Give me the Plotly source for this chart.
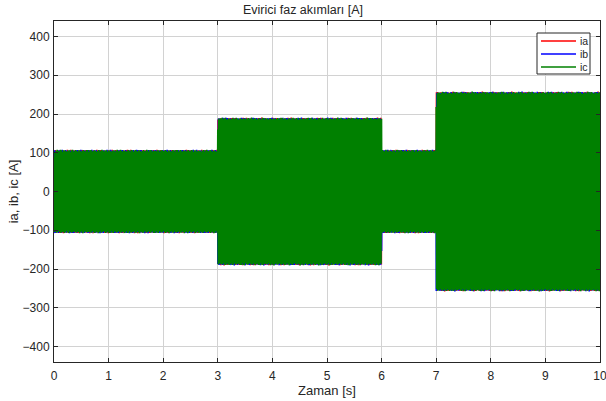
import numpy as np
import plotly.graph_objects as go

# Segment data
seg_start = [0.0, 3.0, 6.0, 7.0]
seg_end = [3.0, 6.0, 7.0, 10.0]
seg_amp = [102.0, 185.0, 102.0, 252.0]   # peak current per segment [A]
f_grid = 50.0                              # fundamental frequency [Hz]
ripple_amp = 6.0                           # switching ripple [A]
ripple_f = 1237.0
phase_names = ["ia", "ib", "ic"]
phase_shift_deg = [0.0, -120.0, 120.0]
phase_colors = ["#ff0000", "#0000ff", "#008000"]
x_ticks = list(range(0, 11))
y_ticks = list(range(-400, 401, 100))

fs = 4000.0
t = np.arange(0, 10.0 + 1 / fs, 1 / fs)
amp = np.zeros_like(t)
for s, e, a in zip(seg_start, seg_end, seg_amp):
    amp[(t >= s) & (t <= e)] = a

fig = go.Figure()
for name, ph, col in zip(phase_names, phase_shift_deg, phase_colors):
    p = np.deg2rad(ph)
    y = (amp * np.sin(2 * np.pi * f_grid * t + p)
         + ripple_amp * np.sin(2 * np.pi * ripple_f * t + 3 * p) * np.sin(2 * np.pi * 7.3 * t + p))
    fig.add_trace(go.Scatter(x=t, y=y, mode="lines", name=name, showlegend=False,
                             line=dict(color=col, width=1.6)))

FONT = "Liberation Sans, Arial"
axis_common = dict(
    showline=True, linecolor="#262626", linewidth=1, mirror="ticks",
    ticks="inside", ticklen=4, tickcolor="#262626",
    showgrid=True, gridcolor="#d2d2d2", gridwidth=1,
    zeroline=False, automargin=False, ticklabeloverflow="allow",
    tickfont=dict(family=FONT, size=12, color="#262626"),
)

# custom compact legend (MATLAB style)
L, R, T, B = 54, 600, 21, 362
W, H = 606, 401
def px(x):
    return (x - L) / (R - L)
def py(y):
    return (B - y) / (B - T)

shapes = [dict(type="rect", xref="paper", yref="paper",
               x0=px(537), x1=px(590), y0=py(74), y1=py(33),
               line=dict(color="#262626", width=1), fillcolor="white", layer="above")]
annotations = []
for i, (name, col) in enumerate(zip(phase_names, phase_colors)):
    yy = 41 + 13 * i
    shapes.append(dict(type="line", xref="paper", yref="paper",
                       x0=px(541), x1=px(576), y0=py(yy), y1=py(yy),
                       line=dict(color=col, width=1.5), layer="above"))
    annotations.append(dict(text=name, xref="paper", yref="paper",
                            x=px(578), y=py(yy), xanchor="left", yanchor="middle",
                            showarrow=False, font=dict(family=FONT, size=10.5, color="#262626")))

fig.update_layout(
    width=W, height=H,
    margin=dict(l=L, r=W - R, t=T, b=H - B),
    paper_bgcolor="white", plot_bgcolor="white",
    title=dict(text="Evirici faz akımları [A]", x=0.5, xref="container",
               y=1 - 10 / H, yref="container", xanchor="center", yanchor="middle",
               automargin=False,
               font=dict(family=FONT, size=12.5, color="#262626")),
    xaxis=dict(range=[0, 10], tickvals=x_ticks, ticklabelstandoff=3,
               title=dict(text="Zaman [s]", standoff=2,
                          font=dict(family=FONT, size=13, color="#262626")),
               **axis_common),
    yaxis=dict(range=[-440, 440], tickvals=y_ticks, ticklabelstandoff=1,
               title=dict(text="ia, ib, ic [A]", standoff=1,
                          font=dict(family=FONT, size=13, color="#262626")),
               **axis_common),
    shapes=shapes,
    annotations=annotations,
    showlegend=False,
)

fig.write_html("out.html", config={"displayModeBar": False},
               post_script="document.body.style.margin='0';")
